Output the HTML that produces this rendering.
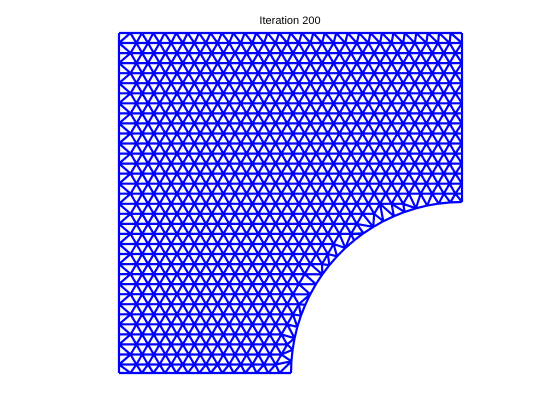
<!DOCTYPE html>
<html><head><meta charset="utf-8"><style>
body{margin:0;background:#fff;}
svg{display:block;font-family:"Liberation Sans",sans-serif;}
</style></head><body>
<svg id="chart" width="560" height="420" viewBox="0 0 560 420">
<rect width="560" height="420" fill="#fff"/>
<text x="290" y="24" font-size="11" text-anchor="middle">Iteration 200</text>
<path id="mesh" fill="none" stroke="#0000ff" stroke-width="2.2" stroke-linejoin="round"/>
</svg>
<script>
// Domain data (pixel frame of the plot)
const xRange = [119, 462];
const yRange = [33, 373];
const holeCenter = [462, 373];
const holeRadius = [171];
const edgeSize = [11.6];

const h = edgeSize[0], dy = h * Math.sqrt(3) / 2;
const [x0, x1] = xRange, [y0, y1] = yRange, [cx, cy] = holeCenter, R = holeRadius[0];
function sdf(x, y) {
  const dRect = Math.max(x0 - x, x - x1, y0 - y, y - y1);
  const dCirc = R - Math.hypot(x - cx, y - cy);
  return Math.max(dRect, dCirc);
}
const raw = [];
for (let j = 0; y0 + j * dy <= y1 - 0.3 * dy; j++) {
  const y = y0 + j * dy;
  raw.push([x0, y]);
  if (y <= cy - R - 0.3 * dy) raw.push([x1, y]);
}
function addSeg(ax, ay, bx, by) {
  const L = Math.hypot(bx - ax, by - ay), n = Math.max(1, Math.round(L / h));
  for (let k = 0; k <= n; k++) raw.push([ax + (bx - ax) * k / n, ay + (by - ay) * k / n]);
}
addSeg(x0, y0, x1, y0);
{ const n = Math.round(R * Math.PI / 2 / h);
  for (let k = 0; k <= n; k++) { const a = -Math.PI / 2 - k / n * Math.PI / 2; raw.push([cx + R * Math.cos(a), cy + R * Math.sin(a)]); } }
addSeg(cx - R, y1, x0, y1);
for (let j = 1; y0 + j * dy < y1 - 1; j++) {
  const y = y0 + j * dy;
  for (let i = 0; x0 + i * h <= x1 + h; i++) {
    const x = x0 + (i + (j % 2) * 0.5) * h;
    if (sdf(x, y) < -0.5 * h) raw.push([x, y]);
  }
}
// dedupe near-coincident points
const pts = [];
raw.forEach(p => { if (!pts.some(q => Math.abs(q[0]-p[0]) < 2 && Math.abs(q[1]-p[1]) < 2)) pts.push(p); });
// Bowyer-Watson Delaunay (tiny deterministic tie-break offsets)
function delaunay(P) {
  const all = P.map((p, i) => [p[0] + ((i * 7919) % 97) * 1e-4, p[1] + ((i * 104729) % 89) * 1e-4]);
  const n = all.length;
  all.push([-5000, -5000], [6000, -5000], [500, 6000]);
  let tris = [[n, n + 1, n + 2]];
  function circ(t) {
    const [ax, ay] = all[t[0]], [bx, by] = all[t[1]], [qx, qy] = all[t[2]];
    const d = 2 * (ax * (by - qy) + bx * (qy - ay) + qx * (ay - by));
    const ux = ((ax*ax+ay*ay)*(by-qy)+(bx*bx+by*by)*(qy-ay)+(qx*qx+qy*qy)*(ay-by))/d;
    const uy = ((ax*ax+ay*ay)*(qx-bx)+(bx*bx+by*by)*(ax-qx)+(qx*qx+qy*qy)*(bx-ax))/d;
    return [ux, uy, (ax-ux)**2+(ay-uy)**2];
  }
  let cc = tris.map(circ);
  for (let p = 0; p < n; p++) {
    const [px, py] = all[p];
    const bad = [], keep = [], keepC = [];
    tris.forEach((t, k) => { const c = cc[k]; if ((px-c[0])**2+(py-c[1])**2 < c[2]) bad.push(t); else { keep.push(t); keepC.push(c); } });
    const ec = new Map();
    bad.forEach(t => { for (let e = 0; e < 3; e++) { const a = t[e], b = t[(e+1)%3]; const key = a < b ? a+','+b : b+','+a; ec.set(key, (ec.get(key)||0)+1); } });
    bad.forEach(t => { for (let e = 0; e < 3; e++) { const a = t[e], b = t[(e+1)%3]; const key = a < b ? a+','+b : b+','+a; if (ec.get(key) === 1) { const nt = [a, b, p]; keep.push(nt); keepC.push(circ(nt)); } } });
    tris = keep; cc = keepC;
  }
  return tris.filter(t => t[0] < n && t[1] < n && t[2] < n);
}
const tris = delaunay(pts).filter(t => {
  const gx = (pts[t[0]][0]+pts[t[1]][0]+pts[t[2]][0])/3, gy = (pts[t[0]][1]+pts[t[1]][1]+pts[t[2]][1])/3;
  return sdf(gx, gy) < -0.5;
});
const edges = new Set(); let d = '';
tris.forEach(t => { for (let e = 0; e < 3; e++) { const a = t[e], b = t[(e+1)%3]; const key = a < b ? a+','+b : b+','+a;
  if (!edges.has(key)) { edges.add(key); d += 'M' + pts[a][0].toFixed(1) + ' ' + pts[a][1].toFixed(1) + 'L' + pts[b][0].toFixed(1) + ' ' + pts[b][1].toFixed(1); } } });
document.getElementById('mesh').setAttribute('d', d);
</script>
</body></html>
